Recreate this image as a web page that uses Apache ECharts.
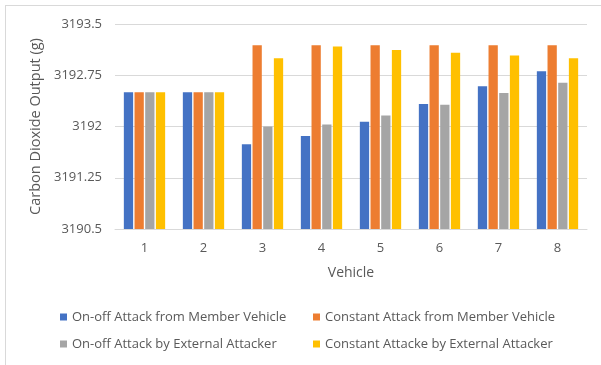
<!DOCTYPE html>
<html><head><meta charset="utf-8">
<script src="https://cdn.jsdelivr.net/npm/echarts@6/dist/echarts.min.js"></script>
<style>html,body{margin:0;padding:0;background:#fff}#c{width:601px;height:365px}</style>
</head><body><div id="c"></div>
<script>
const categories = ['1','2','3','4','5','6','7','8'];
const seriesNames = ['On-off Attack from Member Vehicle','Constant Attack from Member Vehicle','On-off Attack by External Attacker','Constant Attacke by External Attacker'];
const onoffMember = [3192.5, 3192.5, 3191.74, 3191.86, 3192.07, 3192.33, 3192.59, 3192.81];
const constantMember = [3192.5, 3192.5, 3193.19, 3193.19, 3193.19, 3193.19, 3193.19, 3193.19];
const onoffExternal = [3192.5, 3192.5, 3192.0, 3192.03, 3192.16, 3192.32, 3192.49, 3192.64];
const constantExternal = [3192.5, 3192.5, 3193.0, 3193.17, 3193.12, 3193.08, 3193.04, 3193.0];
const yTicks = ['3190.5','3191.25','3192','3192.75','3193.5'];
const colors = ['#4472C4','#ED7D31','#A5A5A5','#FFC000'];
const values = [onoffMember, constantMember, onoffExternal, constantExternal];
const FONT = 'Open Sans';
const chart = echarts.init(document.getElementById('c'));
chart.setOption({
  animation: false,
  textStyle: {fontFamily: FONT},
  graphic: [
    {type:'line', shape:{x1:5,y1:5.5,x2:601,y2:5.5}, style:{stroke:'#d9d9d9',lineWidth:1}},
    {type:'line', shape:{x1:5.5,y1:5,x2:5.5,y2:365}, style:{stroke:'#d9d9d9',lineWidth:1}}
  ],
  grid: {left:115, right:14, top:24, bottom:136},
  legend: [
    {data:[seriesNames[0], seriesNames[2]], orient:'vertical', left:55, top:305, itemWidth:7, itemHeight:7, itemGap:13,
     icon:'rect', textStyle:{color:'#595959', fontSize:13, fontFamily:FONT, lineHeight:14}},
    {data:[seriesNames[1], seriesNames[3]], orient:'vertical', left:308, top:305, itemWidth:7, itemHeight:7, itemGap:13,
     icon:'rect', textStyle:{color:'#595959', fontSize:13, fontFamily:FONT, lineHeight:14}}
  ],
  xAxis: {
    type:'category', data:categories,
    name:'Vehicle', nameLocation:'middle', nameGap:37,
    nameTextStyle:{color:'#595959', fontSize:14, fontFamily:FONT},
    axisLine:{lineStyle:{color:'#d9d9d9'}}, axisTick:{show:false},
    axisLabel:{color:'#595959', fontSize:13, margin:13, fontFamily:FONT}
  },
  yAxis: {
    type:'value', min:3190.5, max:3193.5, interval:0.75,
    name:'Carbon Dioxide Output (g)', nameLocation:'middle', nameGap:67, nameRotate:90,
    nameTextStyle:{color:'#595959', fontSize:14.5, fontFamily:FONT},
    axisLine:{show:false}, axisTick:{show:false},
    axisLabel:{color:'#595959', fontSize:13, margin:13, fontFamily:FONT,
      formatter:(v)=>{const s=yTicks.find(t=>Math.abs(parseFloat(t)-v)<1e-6);return s||String(v);}},
    splitLine:{lineStyle:{color:'#d9d9d9'}}
  },
  series: seriesNames.map((n,i)=>({
    name:n, type:'bar', data:values[i], itemStyle:{color:colors[i]},
    barGap:'15%', barCategoryGap:'30%'
  }))
});
</script></body></html>
